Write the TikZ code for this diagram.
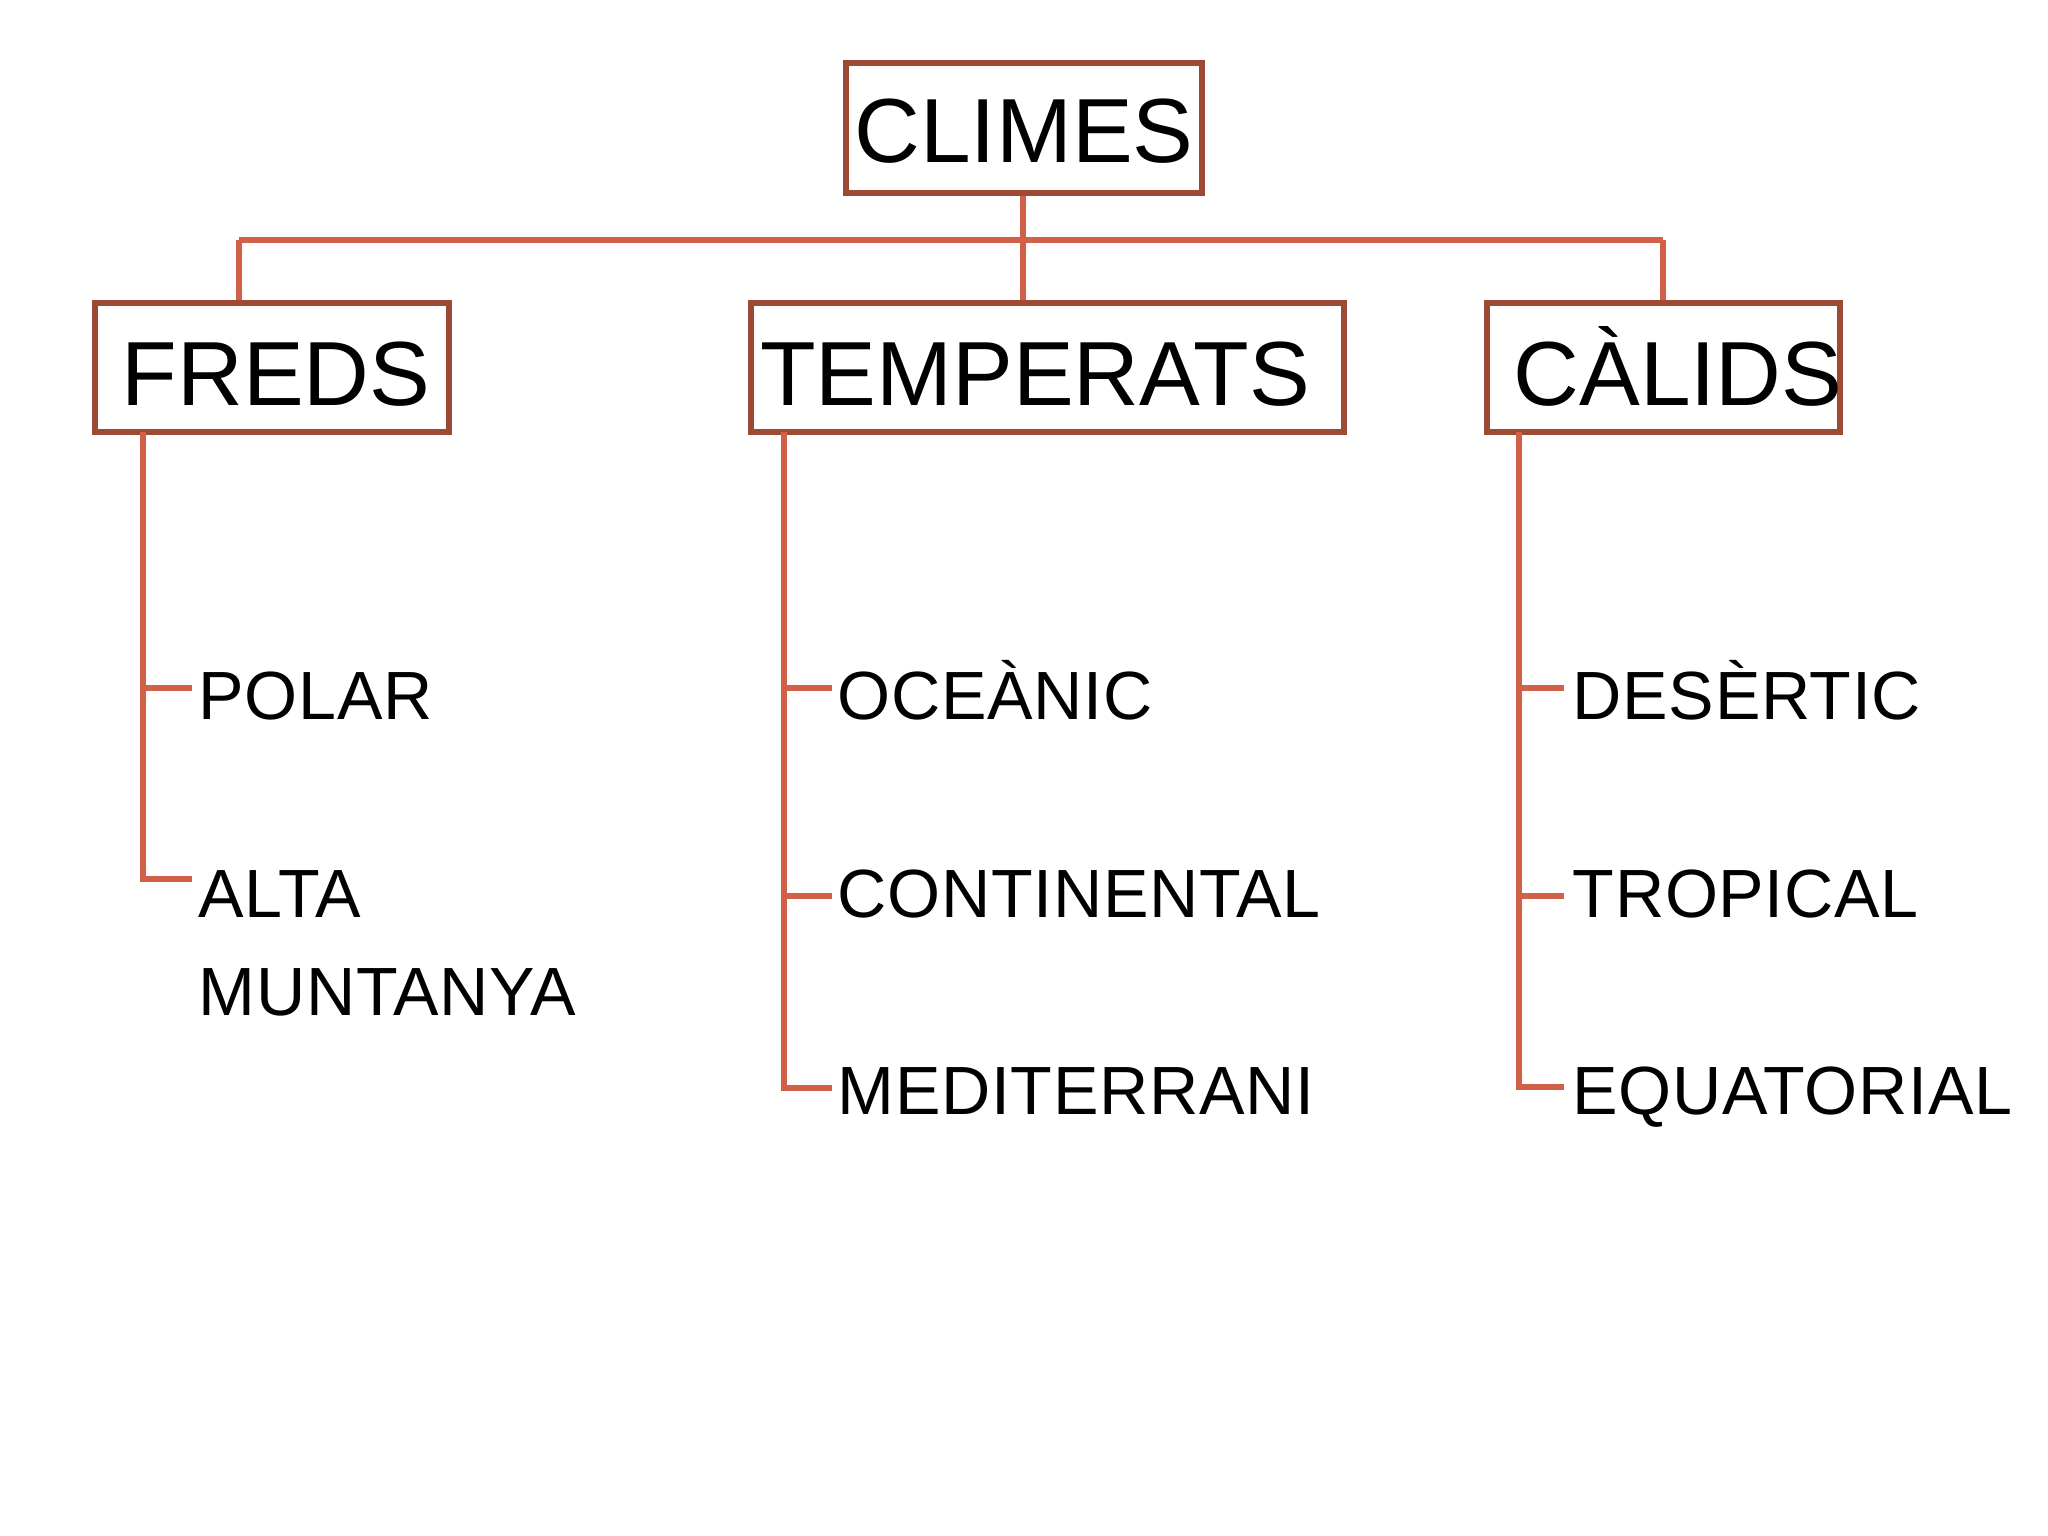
\documentclass[tikz,border=0pt]{standalone}
\usepackage{fontspec}
\setmainfont{Liberation Sans}
\newfontfamily\leaffont[LetterSpace=1.0]{Liberation Sans}
\definecolor{boxbrown}{HTML}{9C4A34}
\definecolor{linkred}{HTML}{D0604A}
\begin{document}
\begin{tikzpicture}[x=0.01cm,y=-0.01cm,
  catbox/.style={draw=boxbrown,line width=1.6pt,rectangle,inner sep=0pt,fill=white},
  bigtxt/.style={inner sep=0pt,anchor=base,font=\fontsize{25.9pt}{30pt}\selectfont},
  smalltxt/.style={inner sep=0pt,anchor=base west,font=\leaffont\fontsize{19.4pt}{23pt}\selectfont},
  link/.style={draw=linkred,line width=1.6pt}]
\fill[white] (0,0) rectangle (2048,1536);
\useasboundingbox (0,0) rectangle (2048,1536);

% boxes
\node[catbox,minimum width=356*0.01cm,minimum height=130*0.01cm] (climes) at (1024,128) {};
\node[catbox,minimum width=354*0.01cm,minimum height=129*0.01cm] (freds) at (272,367.5) {};
\node[catbox,minimum width=593*0.01cm,minimum height=129*0.01cm] (temp) at (1047.5,367.5) {};
\node[catbox,minimum width=353*0.01cm,minimum height=129*0.01cm] (calids) at (1663.5,367.5) {};

% box texts
\node[bigtxt] (tclimes) at (1024,162) {CLIMES};
\node[bigtxt] (tfreds) at (276,405) {FREDS};
\node[bigtxt] (ttemp) at (1035,405) {TEMPERATS};
\node[bigtxt] (tcalids) at (1678,405) {CÀLIDS};

% top connectors
\coordinate (bar) at (1023,240);
\coordinate (barL) at (239,240);
\coordinate (barR) at (1663,240);
\draw[link] (climes.south -| bar) -- (bar) -- (bar |- temp.north);
\draw[link] (barL) -- (barR);
\draw[link] (barL) -- (barL |- freds.north);
\draw[link] (barR) -- (barR |- calids.north);

% leaf texts
\node[smalltxt] (polar) at (198,719) {POLAR};
\node[smalltxt] (alta) at (198,917) {ALTA};
\node[smalltxt] (muntanya) at (198,1015) {MUNTANYA};
\node[smalltxt] (oceanic) at (837,719) {OCEÀNIC};
\node[smalltxt] (continental) at (837,917) {CONTINENTAL};
\node[smalltxt] (mediterrani) at (837,1114) {MEDITERRANI};
\node[smalltxt] (desertic) at (1572,719) {DESÈRTIC};
\node[smalltxt] (tropical) at (1572,917) {TROPICAL};
\node[smalltxt] (equatorial) at (1572,1114) {EQUATORIAL};

% FREDS trunk
\coordinate (f0) at (143,432);
\coordinate (f1) at (143,688);
\coordinate (f2) at (143,879);
\coordinate (fe1) at (192,688);
\coordinate (fe2) at (192,879);
\draw[link] (f0) -- (f2) -- (fe2);
\draw[link] (f1) -- (fe1);

% TEMPERATS trunk
\coordinate (t0) at (784,432);
\coordinate (t1) at (784,688);
\coordinate (t2) at (784,896);
\coordinate (t3) at (784,1088);
\coordinate (te1) at (832,688);
\coordinate (te2) at (832,896);
\coordinate (te3) at (832,1088);
\draw[link] (t0) -- (t3) -- (te3);
\draw[link] (t1) -- (te1);
\draw[link] (t2) -- (te2);

% CALIDS trunk
\coordinate (c0) at (1519,432);
\coordinate (c1) at (1519,688);
\coordinate (c2) at (1519,896);
\coordinate (c3) at (1519,1087);
\coordinate (ce1) at (1564,688);
\coordinate (ce2) at (1564,896);
\coordinate (ce3) at (1564,1087);
\draw[link] (c0) -- (c3) -- (ce3);
\draw[link] (c1) -- (ce1);
\draw[link] (c2) -- (ce2);
\end{tikzpicture}
\end{document}
